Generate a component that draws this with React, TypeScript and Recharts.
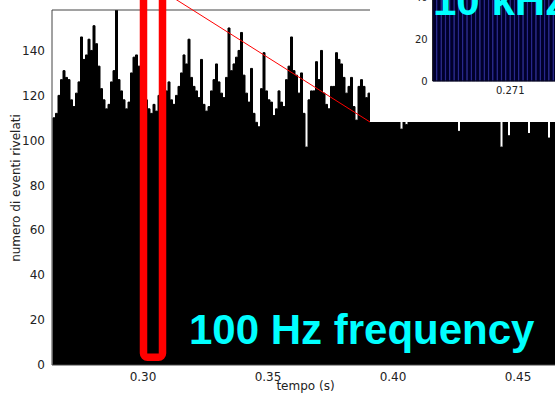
import {
    BarChart,
    Bar,
    XAxis,
    YAxis,
    ReferenceLine,
} from "recharts";

// main histogram: 1 ms bins starting at 0.264 s
const binStart = 0.264;
const binWidth = 0.001;
const counts = [
    110, 112, 120, 127, 131, 128, 127, 118, 115, 121,
    126, 146, 136, 138, 145, 140, 151, 143, 133, 123,
    118, 114, 116, 126, 131, 160, 127, 122, 118, 114,
    117, 130, 137, 138, 133, 127, 125, 118, 114, 112,
    116, 113, 120, 125, 127, 122, 126, 118, 116, 120,
    124, 130, 138, 134, 145, 128, 124, 122, 119, 136,
    116, 113, 115, 122, 127, 134, 126, 121, 119, 128,
    150, 131, 134, 137, 140, 148, 129, 121, 117, 132,
    112, 108, 106, 123, 139, 122, 118, 117, 111, 114,
    122, 117, 115, 127, 133, 146, 131, 129, 121, 130,
    112, 97, 118, 122, 122, 135, 127, 140, 121, 116,
    114, 124, 124, 139, 136, 134, 128, 121, 124, 128,
    115, 109, 124, 127, 124, 119, 121, 126, 131, 118,
    124, 135, 129, 121, 117, 126, 132, 123, 119, 105,
    118, 107, 125, 131, 138, 127, 120, 116, 124, 130,
    122, 118, 126, 134, 129, 121, 117, 123, 110, 127,
    133, 125, 104, 119, 128, 136, 131, 122, 118, 125,
    129, 137, 132, 124, 119, 115, 121, 127, 123, 97,
    118, 126, 102, 121, 128, 134, 126, 119, 116, 122,
    103, 125, 131, 127, 120, 117, 123, 129, 101, 118,
    124,
];
const xTicks = [0.3, 0.35, 0.4, 0.45];
const yTicks = [0, 20, 40, 60, 80, 100, 120, 140];

// inset: finer bins around 0.271 s
const insetStart = 0.2701;
const insetWidth = 0.00005;
const insetCounts = [
    46, 44, 48, 43, 47, 45, 49, 42, 46, 48,
    44, 47, 43, 45, 49, 46, 42, 48, 44, 47,
    45, 43, 48, 46, 44, 49, 42, 47, 45, 46,
];
const insetXTicks = [0.271];
const insetYTicks = [0, 20, 40];

// zoom box drawn around the 100 Hz window
const zoomBox = { t1: 0.3002, t2: 0.3078, bottom: 3.43 };

const data = counts.map((c, i) => ({ t: binStart + binWidth * (i + 0.5), count: c }));
const insetData = insetCounts.map((c, i) => ({ t: insetStart + insetWidth * (i + 0.5), count: c }));

// main plot geometry (same numbers as the chart below)
const plotLeft = 52;
const plotBottom = 365;
const xMin = 0.2636;
const xMax = 0.4664;
const yMax = 158;
const pxPerSec = 507 / (xMax - xMin);
const pxPerCount = 355 / yMax;
const toX = (t: number) => plotLeft + (t - xMin) * pxPerSec;
const toY = (v: number) => plotBottom - v * pxPerCount;

const tickFont = { fontFamily: "DejaVu Sans", fontSize: 12, fill: "#222" };
const insetFont = { fontFamily: "DejaVu Sans", fontSize: 10, fill: "#222" };

export default function App() {
    const bx1 = toX(zoomBox.t1);
    const bx2 = toX(zoomBox.t2);
    const by = toY(zoomBox.bottom);
    return (
        <div style={{ position: "absolute", left: 0, top: 0, width: 555, height: 394, overflow: "hidden", background: "#fff" }}>
            <BarChart
                width={560}
                height={394}
                data={data}
                margin={{ top: 10, right: 1, bottom: 0, left: 0 }}
                barCategoryGap={0}
                barGap={0}
            >
                <XAxis
                    dataKey="t"
                    type="number"
                    domain={[xMin, xMax]}
                    allowDataOverflow
                    ticks={xTicks}
                    interval={0}
                    tickFormatter={(v: number) => v.toFixed(2)}
                    tick={tickFont}
                    tickLine={false}
                    tickSize={5}
                    height={29}
                    axisLine={{ stroke: "#444" }}
                />
                <YAxis
                    type="number"
                    domain={[0, yMax]}
                    allowDataOverflow
                    ticks={yTicks}
                    interval={0}
                    tick={tickFont}
                    tickLine={false}
                    tickSize={5}
                    width={52}
                    axisLine={{ stroke: "#444" }}
                />
                <ReferenceLine y={yMax} stroke="#444" />
                <Bar dataKey="count" fill="#000" stroke="#000" strokeWidth={1} isAnimationActive={false} />
            </BarChart>

            <div style={{ position: "absolute", left: 370, top: 0, width: 185, height: 122, overflow: "hidden", background: "#fff" }}>
                <div style={{ position: "absolute", left: 0, top: -30 }}>
                    <BarChart
                        width={192}
                        height={152}
                        data={insetData}
                        margin={{ top: 6, right: 0, bottom: 21, left: 0.7 }}
                        barCategoryGap={0}
                        barGap={0}
                    >
                        <XAxis
                            dataKey="t"
                            type="number"
                            domain={[0.2701, 0.2716]}
                            allowDataOverflow
                            ticks={insetXTicks}
                            interval={0}
                            tickFormatter={(v: number) => v.toFixed(3)}
                            tick={insetFont}
                            tickLine={false}
                            tickSize={4}
                            height={20}
                            axisLine={{ stroke: "#000" }}
                        />
                        <YAxis
                            type="number"
                            domain={[0, 50]}
                            ticks={insetYTicks}
                            interval={0}
                            tick={insetFont}
                            tickLine={false}
                            tickSize={3}
                            width={62}
                            axisLine={{ stroke: "#000" }}
                        />
                        <Bar dataKey="count" fill="#00002a" stroke="#1e1e96" strokeWidth={0.7} isAnimationActive={false} />
                    </BarChart>
                </div>
            </div>

            <svg width={555} height={394} style={{ position: "absolute", left: 0, top: 0, pointerEvents: "none" }}>
                <line x1={161} y1={-10} x2={370} y2={122} stroke="#ff0000" strokeWidth={1} />
                <rect
                    x={bx1}
                    y={-30}
                    width={bx2 - bx1}
                    height={by + 30}
                    rx={4}
                    fill="none"
                    stroke="#ff0000"
                    strokeWidth={7.5}
                />
                <text x={189} y={343.5} fontFamily="Liberation Sans" fontWeight="bold" fontSize={42} fill="#00ffff">
                    100 Hz frequency
                </text>
                <text x={433} y={15} fontFamily="Liberation Sans" fontWeight="bold" fontSize={42} fill="#00ffff">
                    10 kHz
                </text>
                <text x={305.5} y={390} textAnchor="middle" fontFamily="DejaVu Sans" fontSize={12} fill="#222">
                    tempo (s)
                </text>
                <text
                    x={19.5}
                    y={188}
                    transform="rotate(-90 19.5 188)"
                    textAnchor="middle"
                    fontFamily="DejaVu Sans"
                    fontSize={12}
                    fill="#222"
                >
                    numero di eventi rivelati
                </text>
            </svg>
        </div>
    );
}
